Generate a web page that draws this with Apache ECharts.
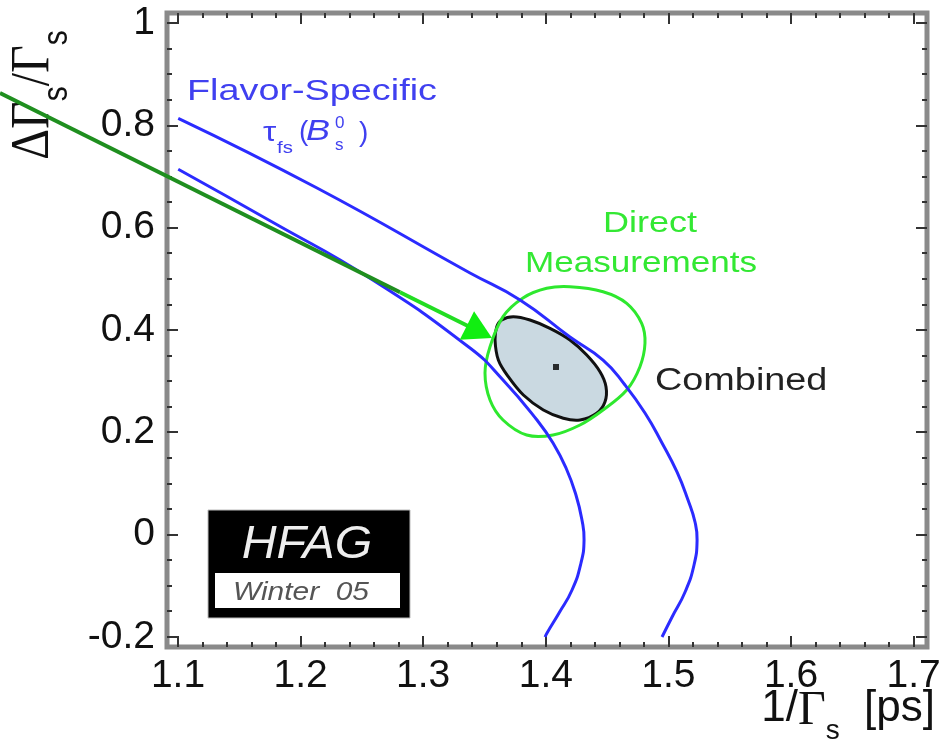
<!DOCTYPE html>
<html><head><meta charset="utf-8">
<script src="https://cdn.jsdelivr.net/npm/echarts@6/dist/echarts.min.js"></script>
<style>html,body{margin:0;padding:0;background:#fff}#c{width:945px;height:752px}</style>
</head><body><div id="c"></div>
<script>
// ---- data (x = 1/Gamma_s [ps], y = DeltaGamma_s/Gamma_s) ----
const outerBand = [[1.1002,0.8137],[1.2134,0.6774],[1.3382,0.5112],[1.3790,0.4585],[1.4197,0.3861],[1.4467,0.3411],[1.4646,0.2923],[1.4809,0.2375],[1.4948,0.1789],[1.5070,0.1222],[1.5160,0.0674],[1.5217,0.0244],[1.5234,-0.0108],[1.5209,-0.0596],[1.5136,-0.1124],[1.5030,-0.1613],[1.4948,-0.2004]];
const innerBand = [[1.1002,0.7140],[1.1783,0.6090],[1.2566,0.5009],[1.3382,0.3646],[1.3651,0.3021],[1.3928,0.2239],[1.4059,0.1789],[1.4165,0.1300],[1.4246,0.0772],[1.4295,0.0283],[1.4312,-0.0108],[1.4287,-0.0557],[1.4214,-0.1085],[1.4108,-0.1535],[1.4010,-0.1926],[1.3994,-0.2004]];
const directContour = [[1.4197,0.4845],[1.4467,0.4747],[1.4660,0.4520],[1.4782,0.4129],[1.4809,0.3738],[1.4768,0.3281],[1.4660,0.2825],[1.4467,0.2434],[1.4279,0.2141],[1.4059,0.1945],[1.3844,0.1945],[1.3651,0.2239],[1.3545,0.2630],[1.3504,0.3157],[1.3545,0.3672],[1.3651,0.4258],[1.3814,0.4624],[1.4007,0.4813]];
const combinedContour = [[1.3640,0.4194],[1.3735,0.4258],[1.3871,0.4194],[1.4034,0.4031],[1.4197,0.3803],[1.4334,0.3509],[1.4442,0.3183],[1.4491,0.2890],[1.4483,0.2596],[1.4415,0.2370],[1.4279,0.2239],[1.4143,0.2272],[1.3980,0.2434],[1.3817,0.2727],[1.3694,0.3085],[1.3613,0.3412],[1.3586,0.3803],[1.3600,0.4063]];
const combinedCentre = [[1.4083,0.3275]];
// arrow: start, colour change, tip
const arrowPath = [[0.9548,0.8632],[1.2811,0.4737],[1.3561,0.3842]];
const xRange = [1.1, 1.7, 0.1];
const yRange = [-0.2, 1.0, 0.2];

const FONT = 'Liberation Sans';
const SERIF = 'Liberation Serif';
const tickLine = {color:'#333', width:2};

function polygonItem(points, style, z) {
  return function(params, api) {
    const pts = points.map(function(p){ return api.coord(p); });
    return {type:'polygon', z2:z, shape:{points:pts, smooth:0.35}, style:style};
  };
}

function arrowItem(params, api) {
  const p0 = api.coord(arrowPath[0]);
  const p1 = api.coord(arrowPath[1]);
  const tip = api.coord(arrowPath[2]);
  const dx = tip[0]-p1[0], dy = tip[1]-p1[1];
  const len = Math.sqrt(dx*dx+dy*dy);
  const ux = dx/len, uy = dy/len;
  const headLen = 28, headHalf = 16;
  const bx = tip[0]-ux*headLen, by = tip[1]-uy*headLen;
  const shaftEnd = [tip[0]-ux*(headLen-4), tip[1]-uy*(headLen-4)];
  return {type:'group', children:[
    {type:'line', shape:{x1:p0[0], y1:p0[1], x2:p1[0], y2:p1[1]}, style:{stroke:'#1f8f1f', lineWidth:4}},
    {type:'line', shape:{x1:p1[0], y1:p1[1], x2:shaftEnd[0], y2:shaftEnd[1]}, style:{stroke:'#22dd22', lineWidth:4}},
    {type:'polygon', shape:{points:[[tip[0],tip[1]],[bx-uy*headHalf, by+ux*headHalf],[bx+uy*headHalf, by-ux*headHalf]]}, style:{fill:'#11ee11'}}
  ]};
}

function curveItem(points) {
  return function(params, api) {
    const pts = points.map(function(p){ return api.coord(p); });
    return {type:'polyline', shape:{points:pts, smooth:0.5}, style:{stroke:'#2b2bff', lineWidth:3, fill:'none'}};
  };
}

const chart = echarts.init(document.getElementById('c'), null, {renderer:'canvas'});
const option = {
  animation:false,
  backgroundColor:'#fff',
  grid:[
    {left:178, right:31.4, top:23, bottom:115.2},
    {left:167, right:18, top:13, bottom:105, show:true, borderColor:'#8a8a8a', borderWidth:5, backgroundColor:'transparent'}
  ],
  xAxis:[
    {type:'value', gridIndex:0, position:'bottom', offset:10.2, min:xRange[0], max:xRange[1], interval:xRange[2],
     axisLine:{show:false, onZero:false}, splitLine:{show:false},
     axisTick:{show:true, inside:true, length:11, lineStyle:tickLine},
     minorTick:{show:true, splitNumber:5, length:5, lineStyle:tickLine},
     axisLabel:{fontSize:39, color:'#111', fontFamily:FONT, margin:10}},
    {type:'value', gridIndex:0, position:'top', offset:10, min:xRange[0], max:xRange[1], interval:xRange[2],
     axisLine:{show:false, onZero:false}, splitLine:{show:false}, axisLabel:{show:false},
     axisTick:{show:true, inside:true, length:11, lineStyle:tickLine},
     minorTick:{show:true, splitNumber:5, length:5, lineStyle:tickLine}},
    {type:'value', gridIndex:1, show:false, min:0, max:1}
  ],
  yAxis:[
    {type:'value', gridIndex:0, position:'left', offset:11, min:yRange[0], max:yRange[1], interval:yRange[2],
     axisLine:{show:false, onZero:false}, splitLine:{show:false},
     axisTick:{show:true, inside:true, length:11, lineStyle:tickLine},
     minorTick:{show:true, splitNumber:4, length:5, lineStyle:tickLine},
     axisLabel:{fontSize:39, color:'#111', fontFamily:FONT, margin:12}},
    {type:'value', gridIndex:0, position:'right', offset:13.4, min:yRange[0], max:yRange[1], interval:yRange[2],
     axisLine:{show:false, onZero:false}, splitLine:{show:false}, axisLabel:{show:false},
     axisTick:{show:true, inside:true, length:11, lineStyle:tickLine},
     minorTick:{show:true, splitNumber:4, length:5, lineStyle:tickLine}},
    {type:'value', gridIndex:1, show:false, min:0, max:1}
  ],
  series:[
    {type:'custom', name:'Combined', xAxisIndex:0, yAxisIndex:0, z:2, data:[combinedContour[0]],
     renderItem:polygonItem(combinedContour, {fill:'#cad9e1', stroke:'#111', lineWidth:3}, 1)},
    {type:'custom', name:'Direct Measurements', xAxisIndex:0, yAxisIndex:0, z:3, data:[directContour[0]],
     renderItem:polygonItem(directContour, {fill:'none', stroke:'#2ee82e', lineWidth:3}, 2)},
    {type:'custom', name:'Flavor-Specific outer', xAxisIndex:0, yAxisIndex:0, z:4, data:[outerBand[0]], renderItem:curveItem(outerBand)},
    {type:'custom', name:'Flavor-Specific inner', xAxisIndex:0, yAxisIndex:0, z:4, data:[innerBand[0]], renderItem:curveItem(innerBand)},
    {type:'scatter', data:combinedCentre, symbol:'rect', symbolSize:6, itemStyle:{color:'#000'}, z:6},
    {type:'custom', name:'arrow', xAxisIndex:0, yAxisIndex:0, z:5, clip:false, data:[arrowPath[2]], renderItem:arrowItem}
  ],
  graphic:[
    {type:'text', x:187, y:92, scaleX:1.26, style:{text:'Flavor-Specific', fontSize:30, fontFamily:FONT, fill:'#4040f0', align:'left', verticalAlign:'middle'}},
    {type:'text', x:263, y:133, scaleX:1.2, style:{text:'τ', fontSize:28, fontFamily:FONT, fill:'#4040f0', align:'left', verticalAlign:'middle'}},
    {type:'text', x:277, y:148, scaleX:1.2, style:{text:'fs', fontSize:17, fontFamily:FONT, fill:'#4040f0', align:'left', verticalAlign:'middle'}},
    {type:'text', x:299, y:132, style:{text:'(', fontSize:28, fontFamily:FONT, fill:'#4040f0', align:'left', verticalAlign:'middle'}},
    {type:'text', x:306, y:132, scaleX:1.2, style:{text:'B', fontSize:30, fontStyle:'italic', fontFamily:FONT, fill:'#4040f0', align:'left', verticalAlign:'middle'}},
    {type:'text', x:335, y:123, style:{text:'0', fontSize:17, fontFamily:FONT, fill:'#4040f0', align:'left', verticalAlign:'middle'}},
    {type:'text', x:335, y:145, style:{text:'s', fontSize:17, fontFamily:FONT, fill:'#4040f0', align:'left', verticalAlign:'middle'}},
    {type:'text', x:359, y:133, style:{text:')', fontSize:28, fontFamily:FONT, fill:'#4040f0', align:'left', verticalAlign:'middle'}},
    {type:'text', x:603, y:224, scaleX:1.2, style:{text:'Direct', fontSize:30, fontFamily:FONT, fill:'#33e833', align:'left', verticalAlign:'middle'}},
    {type:'text', x:525, y:264, scaleX:1.17, style:{text:'Measurements', fontSize:30, fontFamily:FONT, fill:'#33e833', align:'left', verticalAlign:'middle'}},
    {type:'text', x:655, y:381, scaleX:1.22, style:{text:'Combined', fontSize:31, fontFamily:FONT, fill:'#222', align:'left', verticalAlign:'middle'}},
    {type:'rect', shape:{x:208, y:510, width:202, height:108}, style:{fill:'#000', stroke:'#bbb', lineWidth:1}},
    {type:'rect', shape:{x:215, y:573, width:185, height:35}, style:{fill:'#fff'}},
    {type:'text', x:307, y:545, scaleX:1.05, style:{text:'HFAG', fontSize:46, fontStyle:'italic', fontFamily:FONT, fill:'#eeeeee', align:'center', verticalAlign:'middle'}},
    {type:'text', x:233, y:593, scaleX:1.15, style:{text:'Winter  05', fontSize:26, fontStyle:'italic', fontFamily:FONT, fill:'#555', align:'left', verticalAlign:'middle'}},
    {type:'text', x:40, y:95, rotation:Math.PI/2, scaleY:1.15, style:{
      text:'{g|ΔΓ}{s|s}{g|/Γ}{s|s}', align:'center', verticalAlign:'middle', fill:'#111',
      rich:{
        g:{fontSize:48, fontFamily:SERIF, lineHeight:60, verticalAlign:'top', fill:'#111'},
        s:{fontSize:30, fontFamily:FONT, lineHeight:30, verticalAlign:'bottom', fill:'#111'}
      }}},
    {type:'text', x:935, y:716, style:{
      text:'{n|1/}{g|Γ}{s|s}{n|  [ps]}', align:'right', verticalAlign:'middle', fill:'#111',
      rich:{
        n:{fontSize:44, fontFamily:FONT, lineHeight:58, verticalAlign:'top', fill:'#111'},
        g:{fontSize:48, fontFamily:SERIF, lineHeight:58, verticalAlign:'top', fill:'#111'},
        s:{fontSize:28, fontFamily:FONT, lineHeight:28, verticalAlign:'bottom', fill:'#111'}
      }}}
  ]
};
chart.setOption(option);
</script></body></html>
